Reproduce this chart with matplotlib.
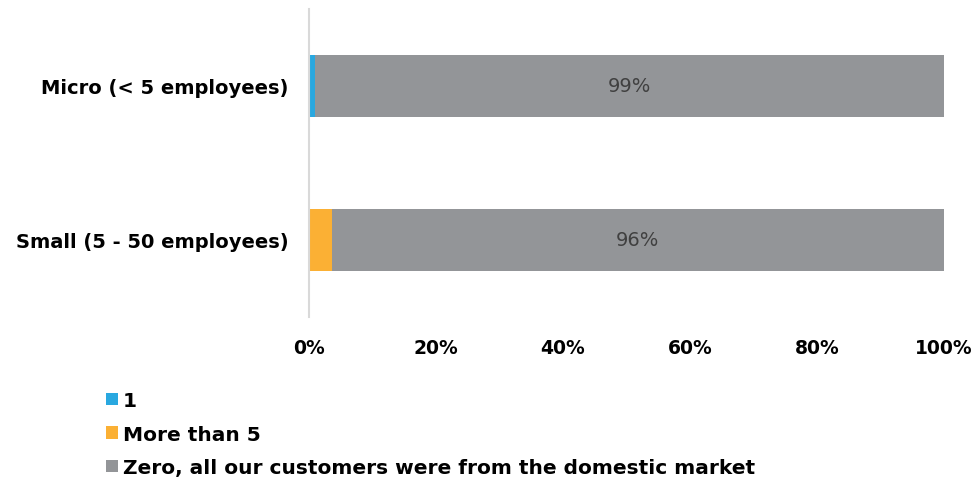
import matplotlib
matplotlib.use("Agg")
import matplotlib.pyplot as plt
from matplotlib.patches import Patch

categories = ["Micro (< 5 employees)", "Small (5 - 50 employees)"]
series_names = ["1", "More than 5", "Zero, all our customers were from the domestic market"]
one = [1.0, 0.0]
more5 = [0.0, 3.6]
zero = [99.0, 96.4]
colors = ["#29A8E0", "#FBB034", "#939598"]
xticks = [0, 20, 40, 60, 80, 100]

plt.rcParams['font.family'] = ['DejaVu Sans']

W, H = 978, 485
fig = plt.figure(figsize=(W/100, H/100), dpi=100)
ax = fig.add_axes([309/W, 1 - 318/H, (944-309)/W, (318-10)/H])

ypos = [1, 0]
h = 0.4
left = [0, 0]
for vals, col in zip([one, more5, zero], colors):
    ax.barh(ypos, vals, left=left, height=h, color=col, edgecolor='none')
    left = [l + v for l, v in zip(left, vals)]

for y, l0, v in zip(ypos, [a + b for a, b in zip(one, more5)], zero):
    ax.text(l0 + v/2, y, f"{round(v):.0f}%", ha='center', va='center',
            fontsize=14, color='#404040')

ax.set_xlim(0, 100)
ax.set_ylim(-0.5, 1.5)
ax.set_yticks(ypos)
ax.set_yticklabels(categories, fontsize=14, fontweight='bold')
ax.set_xticks(xticks)
ax.set_xticklabels([f"{t}%" for t in xticks], fontsize=13.5, fontweight='bold')
ax.tick_params(axis='both', length=0)
ax.tick_params(axis='y', pad=15)
ax.tick_params(axis='x', pad=15)
for s in ['top', 'right', 'bottom']:
    ax.spines[s].set_visible(False)
ax.spines['left'].set_color('#D9D9D9')
ax.spines['left'].set_linewidth(1.5)

handles = [Patch(facecolor=c, edgecolor='none') for c in colors]
leg = fig.legend(handles, series_names, loc='upper left',
                 bbox_to_anchor=(98/W, 1 - 384/H), frameon=False,
                 prop={'weight': 'bold', 'size': 14.5},
                 handlelength=0.6, handleheight=0.6, handletextpad=0.25,
                 labelspacing=0.72, borderaxespad=0)

fig.savefig("out.png", dpi=100)
